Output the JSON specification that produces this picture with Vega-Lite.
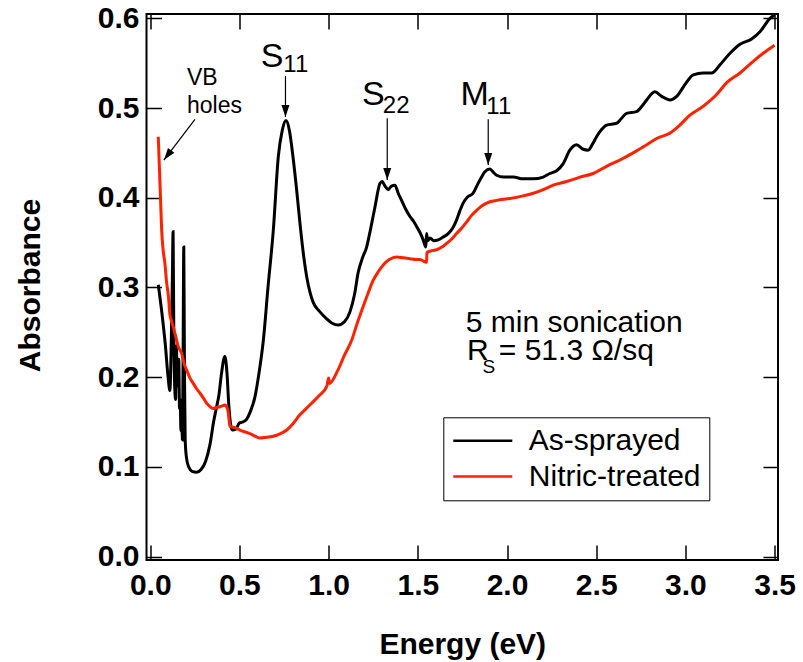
{
  "$schema": "https://vega.github.io/schema/vega-lite/v6.json",
  "width": 631.5,
  "height": 546,
  "autosize": {"type": "none"},
  "padding": {"left": 146.5, "top": 14, "right": 25, "bottom": 102},
  "background": "white",
  "config": {
    "view": {"stroke": "black", "strokeWidth": 2},
    "font": "Liberation Sans",
    "axis": {"grid": false, "domain": false, "tickColor": "black", "tickWidth": 1.5, "tickSize": -15,
             "labelFont": "Liberation Sans", "labelFontWeight": "bold", "labelFontSize": 30, "labelColor": "black",
             "titleFont": "Liberation Sans", "titleFontWeight": "bold", "titleFontSize": 30, "titleColor": "black"}
  },
  "datasets": {
    "curves": [
      {"series": "As-sprayed", "E": 0.045, "A": 0.303},
      {"series": "As-sprayed", "E": 0.065, "A": 0.272},
      {"series": "As-sprayed", "E": 0.085, "A": 0.235},
      {"series": "As-sprayed", "E": 0.100, "A": 0.200},
      {"series": "As-sprayed", "E": 0.110, "A": 0.185},
      {"series": "As-sprayed", "E": 0.118, "A": 0.240},
      {"series": "As-sprayed", "E": 0.124, "A": 0.310},
      {"series": "As-sprayed", "E": 0.128, "A": 0.362},
      {"series": "As-sprayed", "E": 0.132, "A": 0.250},
      {"series": "As-sprayed", "E": 0.137, "A": 0.190},
      {"series": "As-sprayed", "E": 0.142, "A": 0.175},
      {"series": "As-sprayed", "E": 0.147, "A": 0.235},
      {"series": "As-sprayed", "E": 0.151, "A": 0.190},
      {"series": "As-sprayed", "E": 0.156, "A": 0.200},
      {"series": "As-sprayed", "E": 0.160, "A": 0.220},
      {"series": "As-sprayed", "E": 0.164, "A": 0.165},
      {"series": "As-sprayed", "E": 0.168, "A": 0.175},
      {"series": "As-sprayed", "E": 0.172, "A": 0.140},
      {"series": "As-sprayed", "E": 0.176, "A": 0.170},
      {"series": "As-sprayed", "E": 0.180, "A": 0.130},
      {"series": "As-sprayed", "E": 0.184, "A": 0.220},
      {"series": "As-sprayed", "E": 0.188, "A": 0.345},
      {"series": "As-sprayed", "E": 0.192, "A": 0.200},
      {"series": "As-sprayed", "E": 0.196, "A": 0.130},
      {"series": "As-sprayed", "E": 0.202, "A": 0.112},
      {"series": "As-sprayed", "E": 0.215, "A": 0.100},
      {"series": "As-sprayed", "E": 0.235, "A": 0.095},
      {"series": "As-sprayed", "E": 0.260, "A": 0.094},
      {"series": "As-sprayed", "E": 0.285, "A": 0.097},
      {"series": "As-sprayed", "E": 0.310, "A": 0.106},
      {"series": "As-sprayed", "E": 0.335, "A": 0.125},
      {"series": "As-sprayed", "E": 0.355, "A": 0.150},
      {"series": "As-sprayed", "E": 0.370, "A": 0.165},
      {"series": "As-sprayed", "E": 0.385, "A": 0.180},
      {"series": "As-sprayed", "E": 0.400, "A": 0.205},
      {"series": "As-sprayed", "E": 0.418, "A": 0.223},
      {"series": "As-sprayed", "E": 0.430, "A": 0.205},
      {"series": "As-sprayed", "E": 0.440, "A": 0.170},
      {"series": "As-sprayed", "E": 0.450, "A": 0.148},
      {"series": "As-sprayed", "E": 0.460, "A": 0.141},
      {"series": "As-sprayed", "E": 0.480, "A": 0.142},
      {"series": "As-sprayed", "E": 0.500, "A": 0.149},
      {"series": "As-sprayed", "E": 0.520, "A": 0.150},
      {"series": "As-sprayed", "E": 0.540, "A": 0.153},
      {"series": "As-sprayed", "E": 0.560, "A": 0.161},
      {"series": "As-sprayed", "E": 0.587, "A": 0.178},
      {"series": "As-sprayed", "E": 0.610, "A": 0.205},
      {"series": "As-sprayed", "E": 0.634, "A": 0.241},
      {"series": "As-sprayed", "E": 0.660, "A": 0.300},
      {"series": "As-sprayed", "E": 0.690, "A": 0.364},
      {"series": "As-sprayed", "E": 0.718, "A": 0.446},
      {"series": "As-sprayed", "E": 0.740, "A": 0.475},
      {"series": "As-sprayed", "E": 0.761, "A": 0.486},
      {"series": "As-sprayed", "E": 0.780, "A": 0.475},
      {"series": "As-sprayed", "E": 0.800, "A": 0.446},
      {"series": "As-sprayed", "E": 0.820, "A": 0.410},
      {"series": "As-sprayed", "E": 0.839, "A": 0.372},
      {"series": "As-sprayed", "E": 0.860, "A": 0.335},
      {"series": "As-sprayed", "E": 0.877, "A": 0.312},
      {"series": "As-sprayed", "E": 0.895, "A": 0.295},
      {"series": "As-sprayed", "E": 0.914, "A": 0.283},
      {"series": "As-sprayed", "E": 0.950, "A": 0.273},
      {"series": "As-sprayed", "E": 0.989, "A": 0.265},
      {"series": "As-sprayed", "E": 1.020, "A": 0.260},
      {"series": "As-sprayed", "E": 1.054, "A": 0.258},
      {"series": "As-sprayed", "E": 1.090, "A": 0.262},
      {"series": "As-sprayed", "E": 1.120, "A": 0.273},
      {"series": "As-sprayed", "E": 1.145, "A": 0.292},
      {"series": "As-sprayed", "E": 1.166, "A": 0.317},
      {"series": "As-sprayed", "E": 1.190, "A": 0.333},
      {"series": "As-sprayed", "E": 1.213, "A": 0.345},
      {"series": "As-sprayed", "E": 1.235, "A": 0.365},
      {"series": "As-sprayed", "E": 1.260, "A": 0.390},
      {"series": "As-sprayed", "E": 1.288, "A": 0.416},
      {"series": "As-sprayed", "E": 1.300, "A": 0.418},
      {"series": "As-sprayed", "E": 1.316, "A": 0.413},
      {"series": "As-sprayed", "E": 1.334, "A": 0.409},
      {"series": "As-sprayed", "E": 1.352, "A": 0.413},
      {"series": "As-sprayed", "E": 1.372, "A": 0.414},
      {"series": "As-sprayed", "E": 1.390, "A": 0.405},
      {"series": "As-sprayed", "E": 1.409, "A": 0.397},
      {"series": "As-sprayed", "E": 1.430, "A": 0.388},
      {"series": "As-sprayed", "E": 1.456, "A": 0.379},
      {"series": "As-sprayed", "E": 1.475, "A": 0.374},
      {"series": "As-sprayed", "E": 1.493, "A": 0.368},
      {"series": "As-sprayed", "E": 1.510, "A": 0.362},
      {"series": "As-sprayed", "E": 1.530, "A": 0.353},
      {"series": "As-sprayed", "E": 1.545, "A": 0.345},
      {"series": "As-sprayed", "E": 1.549, "A": 0.360},
      {"series": "As-sprayed", "E": 1.555, "A": 0.352},
      {"series": "As-sprayed", "E": 1.568, "A": 0.355},
      {"series": "As-sprayed", "E": 1.590, "A": 0.352},
      {"series": "As-sprayed", "E": 1.614, "A": 0.353},
      {"series": "As-sprayed", "E": 1.640, "A": 0.356},
      {"series": "As-sprayed", "E": 1.670, "A": 0.360},
      {"series": "As-sprayed", "E": 1.695, "A": 0.366},
      {"series": "As-sprayed", "E": 1.717, "A": 0.375},
      {"series": "As-sprayed", "E": 1.735, "A": 0.385},
      {"series": "As-sprayed", "E": 1.754, "A": 0.394},
      {"series": "As-sprayed", "E": 1.780, "A": 0.401},
      {"series": "As-sprayed", "E": 1.810, "A": 0.405},
      {"series": "As-sprayed", "E": 1.838, "A": 0.416},
      {"series": "As-sprayed", "E": 1.860, "A": 0.424},
      {"series": "As-sprayed", "E": 1.876, "A": 0.429},
      {"series": "As-sprayed", "E": 1.904, "A": 0.432},
      {"series": "As-sprayed", "E": 1.925, "A": 0.428},
      {"series": "As-sprayed", "E": 1.942, "A": 0.425},
      {"series": "As-sprayed", "E": 1.980, "A": 0.423},
      {"series": "As-sprayed", "E": 2.035, "A": 0.423},
      {"series": "As-sprayed", "E": 2.090, "A": 0.421},
      {"series": "As-sprayed", "E": 2.147, "A": 0.421},
      {"series": "As-sprayed", "E": 2.203, "A": 0.423},
      {"series": "As-sprayed", "E": 2.240, "A": 0.427},
      {"series": "As-sprayed", "E": 2.278, "A": 0.430},
      {"series": "As-sprayed", "E": 2.315, "A": 0.438},
      {"series": "As-sprayed", "E": 2.352, "A": 0.453},
      {"series": "As-sprayed", "E": 2.390, "A": 0.459},
      {"series": "As-sprayed", "E": 2.427, "A": 0.454},
      {"series": "As-sprayed", "E": 2.455, "A": 0.453},
      {"series": "As-sprayed", "E": 2.480, "A": 0.460},
      {"series": "As-sprayed", "E": 2.502, "A": 0.468},
      {"series": "As-sprayed", "E": 2.530, "A": 0.476},
      {"series": "As-sprayed", "E": 2.558, "A": 0.481},
      {"series": "As-sprayed", "E": 2.614, "A": 0.483},
      {"series": "As-sprayed", "E": 2.640, "A": 0.488},
      {"series": "As-sprayed", "E": 2.670, "A": 0.494},
      {"series": "As-sprayed", "E": 2.726, "A": 0.496},
      {"series": "As-sprayed", "E": 2.760, "A": 0.503},
      {"series": "As-sprayed", "E": 2.783, "A": 0.509},
      {"series": "As-sprayed", "E": 2.829, "A": 0.518},
      {"series": "As-sprayed", "E": 2.867, "A": 0.513},
      {"series": "As-sprayed", "E": 2.913, "A": 0.509},
      {"series": "As-sprayed", "E": 2.951, "A": 0.513},
      {"series": "As-sprayed", "E": 2.997, "A": 0.526},
      {"series": "As-sprayed", "E": 3.044, "A": 0.537},
      {"series": "As-sprayed", "E": 3.100, "A": 0.539},
      {"series": "As-sprayed", "E": 3.147, "A": 0.539},
      {"series": "As-sprayed", "E": 3.193, "A": 0.548},
      {"series": "As-sprayed", "E": 3.250, "A": 0.561},
      {"series": "As-sprayed", "E": 3.306, "A": 0.571},
      {"series": "As-sprayed", "E": 3.371, "A": 0.577},
      {"series": "As-sprayed", "E": 3.418, "A": 0.585},
      {"series": "As-sprayed", "E": 3.474, "A": 0.600},
      {"series": "As-sprayed", "E": 3.500, "A": 0.604},
      {"series": "Nitric-treated", "E": 0.045, "A": 0.468},
      {"series": "Nitric-treated", "E": 0.052, "A": 0.430},
      {"series": "Nitric-treated", "E": 0.058, "A": 0.397},
      {"series": "Nitric-treated", "E": 0.064, "A": 0.364},
      {"series": "Nitric-treated", "E": 0.072, "A": 0.342},
      {"series": "Nitric-treated", "E": 0.082, "A": 0.327},
      {"series": "Nitric-treated", "E": 0.092, "A": 0.305},
      {"series": "Nitric-treated", "E": 0.102, "A": 0.290},
      {"series": "Nitric-treated", "E": 0.110, "A": 0.270},
      {"series": "Nitric-treated", "E": 0.120, "A": 0.262},
      {"series": "Nitric-treated", "E": 0.129, "A": 0.256},
      {"series": "Nitric-treated", "E": 0.143, "A": 0.245},
      {"series": "Nitric-treated", "E": 0.157, "A": 0.234},
      {"series": "Nitric-treated", "E": 0.176, "A": 0.2265},
      {"series": "Nitric-treated", "E": 0.190, "A": 0.215},
      {"series": "Nitric-treated", "E": 0.204, "A": 0.208},
      {"series": "Nitric-treated", "E": 0.220, "A": 0.200},
      {"series": "Nitric-treated", "E": 0.241, "A": 0.193},
      {"series": "Nitric-treated", "E": 0.260, "A": 0.187},
      {"series": "Nitric-treated", "E": 0.279, "A": 0.182},
      {"series": "Nitric-treated", "E": 0.300, "A": 0.176},
      {"series": "Nitric-treated", "E": 0.316, "A": 0.171},
      {"series": "Nitric-treated", "E": 0.335, "A": 0.167},
      {"series": "Nitric-treated", "E": 0.353, "A": 0.165},
      {"series": "Nitric-treated", "E": 0.370, "A": 0.166},
      {"series": "Nitric-treated", "E": 0.391, "A": 0.167},
      {"series": "Nitric-treated", "E": 0.405, "A": 0.168},
      {"series": "Nitric-treated", "E": 0.419, "A": 0.169},
      {"series": "Nitric-treated", "E": 0.430, "A": 0.166},
      {"series": "Nitric-treated", "E": 0.437, "A": 0.161},
      {"series": "Nitric-treated", "E": 0.442, "A": 0.152},
      {"series": "Nitric-treated", "E": 0.447, "A": 0.145},
      {"series": "Nitric-treated", "E": 0.470, "A": 0.144},
      {"series": "Nitric-treated", "E": 0.503, "A": 0.141},
      {"series": "Nitric-treated", "E": 0.530, "A": 0.139},
      {"series": "Nitric-treated", "E": 0.559, "A": 0.137},
      {"series": "Nitric-treated", "E": 0.590, "A": 0.134},
      {"series": "Nitric-treated", "E": 0.615, "A": 0.132},
      {"series": "Nitric-treated", "E": 0.650, "A": 0.133},
      {"series": "Nitric-treated", "E": 0.690, "A": 0.134},
      {"series": "Nitric-treated", "E": 0.730, "A": 0.137},
      {"series": "Nitric-treated", "E": 0.765, "A": 0.141},
      {"series": "Nitric-treated", "E": 0.800, "A": 0.148},
      {"series": "Nitric-treated", "E": 0.839, "A": 0.158},
      {"series": "Nitric-treated", "E": 0.870, "A": 0.164},
      {"series": "Nitric-treated", "E": 0.900, "A": 0.170},
      {"series": "Nitric-treated", "E": 0.950, "A": 0.180},
      {"series": "Nitric-treated", "E": 0.990, "A": 0.190},
      {"series": "Nitric-treated", "E": 1.000, "A": 0.199},
      {"series": "Nitric-treated", "E": 1.005, "A": 0.193},
      {"series": "Nitric-treated", "E": 1.050, "A": 0.207},
      {"series": "Nitric-treated", "E": 1.090, "A": 0.225},
      {"series": "Nitric-treated", "E": 1.129, "A": 0.241},
      {"series": "Nitric-treated", "E": 1.160, "A": 0.260},
      {"series": "Nitric-treated", "E": 1.194, "A": 0.279},
      {"series": "Nitric-treated", "E": 1.220, "A": 0.293},
      {"series": "Nitric-treated", "E": 1.250, "A": 0.308},
      {"series": "Nitric-treated", "E": 1.280, "A": 0.318},
      {"series": "Nitric-treated", "E": 1.306, "A": 0.325},
      {"series": "Nitric-treated", "E": 1.340, "A": 0.331},
      {"series": "Nitric-treated", "E": 1.381, "A": 0.334},
      {"series": "Nitric-treated", "E": 1.420, "A": 0.333},
      {"series": "Nitric-treated", "E": 1.456, "A": 0.332},
      {"series": "Nitric-treated", "E": 1.490, "A": 0.331},
      {"series": "Nitric-treated", "E": 1.512, "A": 0.331},
      {"series": "Nitric-treated", "E": 1.549, "A": 0.328},
      {"series": "Nitric-treated", "E": 1.551, "A": 0.339},
      {"series": "Nitric-treated", "E": 1.580, "A": 0.341},
      {"series": "Nitric-treated", "E": 1.605, "A": 0.342},
      {"series": "Nitric-treated", "E": 1.635, "A": 0.345},
      {"series": "Nitric-treated", "E": 1.661, "A": 0.349},
      {"series": "Nitric-treated", "E": 1.690, "A": 0.354},
      {"series": "Nitric-treated", "E": 1.717, "A": 0.360},
      {"series": "Nitric-treated", "E": 1.745, "A": 0.366},
      {"series": "Nitric-treated", "E": 1.774, "A": 0.373},
      {"series": "Nitric-treated", "E": 1.800, "A": 0.380},
      {"series": "Nitric-treated", "E": 1.830, "A": 0.386},
      {"series": "Nitric-treated", "E": 1.860, "A": 0.391},
      {"series": "Nitric-treated", "E": 1.886, "A": 0.394},
      {"series": "Nitric-treated", "E": 1.942, "A": 0.397},
      {"series": "Nitric-treated", "E": 2.016, "A": 0.399},
      {"series": "Nitric-treated", "E": 2.090, "A": 0.402},
      {"series": "Nitric-treated", "E": 2.147, "A": 0.405},
      {"series": "Nitric-treated", "E": 2.203, "A": 0.409},
      {"series": "Nitric-treated", "E": 2.259, "A": 0.414},
      {"series": "Nitric-treated", "E": 2.334, "A": 0.418},
      {"series": "Nitric-treated", "E": 2.409, "A": 0.423},
      {"series": "Nitric-treated", "E": 2.483, "A": 0.427},
      {"series": "Nitric-treated", "E": 2.558, "A": 0.435},
      {"series": "Nitric-treated", "E": 2.633, "A": 0.442},
      {"series": "Nitric-treated", "E": 2.707, "A": 0.450},
      {"series": "Nitric-treated", "E": 2.783, "A": 0.459},
      {"series": "Nitric-treated", "E": 2.839, "A": 0.466},
      {"series": "Nitric-treated", "E": 2.913, "A": 0.472},
      {"series": "Nitric-treated", "E": 2.969, "A": 0.481},
      {"series": "Nitric-treated", "E": 3.025, "A": 0.492},
      {"series": "Nitric-treated", "E": 3.100, "A": 0.502},
      {"series": "Nitric-treated", "E": 3.175, "A": 0.515},
      {"series": "Nitric-treated", "E": 3.230, "A": 0.528},
      {"series": "Nitric-treated", "E": 3.306, "A": 0.539},
      {"series": "Nitric-treated", "E": 3.380, "A": 0.552},
      {"series": "Nitric-treated", "E": 3.436, "A": 0.561},
      {"series": "Nitric-treated", "E": 3.500, "A": 0.570}
    ],
    "bigLetters": [
      {"E": 0.620, "A": 0.5457, "label": "S"},
      {"E": 1.187, "A": 0.5033, "label": "S"},
      {"E": 1.739, "A": 0.5033, "label": "M"}
    ],
    "subs": [
      {"E": 0.746, "A": 0.540, "label": "11"},
      {"E": 1.304, "A": 0.4944, "label": "22"},
      {"E": 1.884, "A": 0.4933, "label": "11"}
    ],
    "vb": [
      {"E": 0.206, "A": 0.5256, "label": "VB"},
      {"E": 0.206, "A": 0.4948, "label": "holes"}
    ],
    "note": [
      {"E": 1.769, "A": 0.2506, "label": "5 min sonication"},
      {"E": 1.776, "A": 0.219, "label": "R"},
      {"E": 1.954, "A": 0.219, "label": "= 51.3 Ω/sq"}
    ],
    "noteSub": [
      {"E": 1.862, "A": 0.205, "label": "S"}
    ],
    "downArrows": [
      {"E": 0.758, "A": 0.5357, "E2": 0.758, "A2": 0.490},
      {"E": 1.3285, "A": 0.4885, "E2": 1.3285, "A2": 0.4197},
      {"E": 1.8946, "A": 0.4874, "E2": 1.8946, "A2": 0.4365}
    ],
    "vbArrow": [
      {"E": 0.2506, "A": 0.4874, "E2": 0.0768, "A2": 0.442}
    ]
  },
  "layer": [
    {
      "data": {"name": "curves"},
      "mark": {"type": "line", "strokeWidth": 3, "interpolate": "monotone"},
      "encoding": {
        "x": {"field": "E", "type": "quantitative", "scale": {"domain": [-0.021, 3.519], "nice": false, "zero": false},
              "axis": {"orient": "bottom", "values": [0, 0.5, 1, 1.5, 2, 2.5, 3, 3.5], "format": ".1f", "labelPadding": 25, "title": "Energy (eV)", "titleY": 93, "titleBaseline": "alphabetic"}},
        "y": {"field": "A", "type": "quantitative", "scale": {"domain": [-0.0039, 0.6048], "nice": false, "zero": false},
              "axis": {"orient": "left", "values": [0, 0.1, 0.2, 0.3, 0.4, 0.5, 0.6], "format": ".1f", "labelPadding": 22.5, "title": "Absorbance", "titleX": -107, "titleY": 271, "titleAngle": 270, "titleBaseline": "alphabetic", "titleAlign": "center"}},
        "color": {"field": "series", "type": "nominal",
                  "scale": {"domain": ["As-sprayed", "Nitric-treated"], "range": ["#000000", "#ff2200"]},
                  "legend": {"orient": "none", "legendX": 296.8, "legendY": 403.3, "title": null,
                             "strokeColor": "black", "padding": 8.5, "symbolType": "stroke", "symbolSize": 3481,
                             "symbolStrokeWidth": 2.5, "clipHeight": 30, "rowPadding": 5.7, "labelLimit": 400,
                             "labelFont": "Liberation Sans", "labelFontSize": 30, "labelColor": "black", "labelOffset": 15}}
      }
    },
    {
      "data": {"name": "curves"},
      "mark": {"type": "point", "opacity": 0},
      "encoding": {
        "x": {"field": "E", "type": "quantitative", "scale": {"domain": [-0.021, 3.519], "nice": false, "zero": false},
              "axis": {"orient": "top", "values": [0, 0.5, 1, 1.5, 2, 2.5, 3, 3.5], "labels": false, "title": null}},
        "y": {"field": "A", "type": "quantitative", "scale": {"domain": [-0.0039, 0.6048], "nice": false, "zero": false},
              "axis": {"orient": "right", "values": [0, 0.1, 0.2, 0.3, 0.4, 0.5, 0.6], "labels": false, "title": null}}
      }
    },
    {
      "data": {"name": "downArrows"},
      "mark": {"type": "rule", "color": "black", "strokeWidth": 1.2},
      "encoding": {
        "x": {"field": "E", "type": "quantitative", "axis": null},
        "y": {"field": "A", "type": "quantitative", "axis": null},
        "x2": {"field": "E2"},
        "y2": {"field": "A2"}
      }
    },
    {
      "data": {"name": "downArrows"},
      "mark": {"type": "point", "shape": "M0,0L-0.8,-2.4L0.8,-2.4Z", "size": 100, "filled": true, "color": "black", "opacity": 1},
      "encoding": {
        "x": {"field": "E2", "type": "quantitative", "axis": null},
        "y": {"field": "A2", "type": "quantitative", "axis": null}
      }
    },
    {
      "data": {"name": "vbArrow"},
      "mark": {"type": "rule", "color": "black", "strokeWidth": 1.2},
      "encoding": {
        "x": {"field": "E", "type": "quantitative", "axis": null},
        "y": {"field": "A", "type": "quantitative", "axis": null},
        "x2": {"field": "E2"},
        "y2": {"field": "A2"}
      }
    },
    {
      "data": {"name": "vbArrow"},
      "mark": {"type": "point", "shape": "M0,0L-0.8,-2.4L0.8,-2.4Z", "size": 100, "filled": true, "color": "black", "opacity": 1, "angle": 37},
      "encoding": {
        "x": {"field": "E2", "type": "quantitative", "axis": null},
        "y": {"field": "A2", "type": "quantitative", "axis": null}
      }
    },
    {
      "data": {"name": "bigLetters"},
      "mark": {"type": "text", "align": "left", "baseline": "alphabetic", "fontSize": 34, "font": "Liberation Sans", "color": "black"},
      "encoding": {
        "x": {"field": "E", "type": "quantitative", "axis": null},
        "y": {"field": "A", "type": "quantitative", "axis": null},
        "text": {"field": "label"}
      }
    },
    {
      "data": {"name": "subs"},
      "mark": {"type": "text", "align": "left", "baseline": "alphabetic", "fontSize": 24, "font": "Liberation Sans", "color": "black"},
      "encoding": {
        "x": {"field": "E", "type": "quantitative", "axis": null},
        "y": {"field": "A", "type": "quantitative", "axis": null},
        "text": {"field": "label"}
      }
    },
    {
      "data": {"name": "vb"},
      "mark": {"type": "text", "align": "left", "baseline": "alphabetic", "fontSize": 23, "font": "Liberation Sans", "color": "black"},
      "encoding": {
        "x": {"field": "E", "type": "quantitative", "axis": null},
        "y": {"field": "A", "type": "quantitative", "axis": null},
        "text": {"field": "label"}
      }
    },
    {
      "data": {"name": "note"},
      "mark": {"type": "text", "align": "left", "baseline": "alphabetic", "fontSize": 30, "font": "Liberation Sans", "color": "black"},
      "encoding": {
        "x": {"field": "E", "type": "quantitative", "axis": null},
        "y": {"field": "A", "type": "quantitative", "axis": null},
        "text": {"field": "label"}
      }
    },
    {
      "data": {"name": "noteSub"},
      "mark": {"type": "text", "align": "left", "baseline": "alphabetic", "fontSize": 19, "font": "Liberation Sans", "color": "black"},
      "encoding": {
        "x": {"field": "E", "type": "quantitative", "axis": null},
        "y": {"field": "A", "type": "quantitative", "axis": null},
        "text": {"field": "label"}
      }
    }
  ],
  "resolve": {"axis": {"x": "independent", "y": "independent"}}
}
